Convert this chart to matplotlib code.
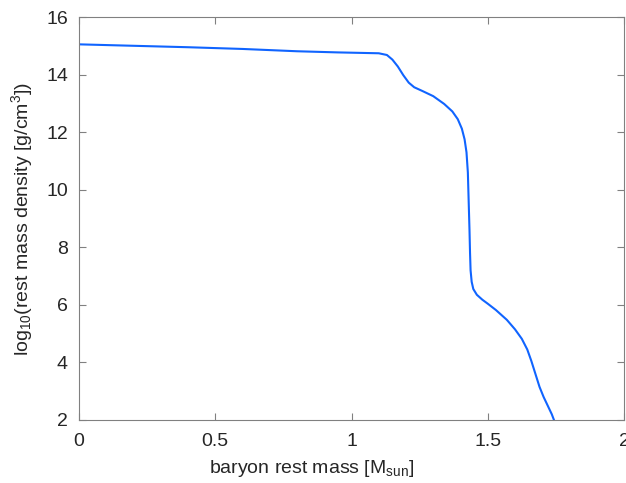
import matplotlib
matplotlib.use("Agg")
import matplotlib.pyplot as plt

plt.rcParams['font.family'] = ['Liberation Sans', 'DejaVu Sans']
plt.rcParams['mathtext.default'] = 'regular'

# curve
mass = [0.0, 0.2, 0.4, 0.6, 0.8, 0.95, 1.05, 1.10, 1.13, 1.15, 1.17, 1.19, 1.21, 1.23,
        1.26, 1.30, 1.34, 1.37, 1.39, 1.405, 1.415, 1.422, 1.427, 1.430, 1.433, 1.435,
        1.437, 1.441, 1.447, 1.46, 1.48, 1.50, 1.53, 1.57, 1.60, 1.625, 1.645, 1.66,
        1.675, 1.69, 1.705, 1.72, 1.735, 1.743]
logrho = [15.05, 15.0, 14.95, 14.89, 14.81, 14.77, 14.75, 14.74, 14.68, 14.52, 14.28, 13.98,
          13.72, 13.56, 13.43, 13.25, 12.98, 12.72, 12.45, 12.12, 11.75, 11.3, 10.6, 9.6,
          8.6, 7.8, 7.2, 6.8, 6.55, 6.35, 6.18, 6.04, 5.82, 5.48, 5.15, 4.82, 4.45, 4.05,
          3.6, 3.15, 2.8, 2.5, 2.2, 2.0]

xticks = [0, 0.5, 1, 1.5, 2]
xticklabels = ["0", "0.5", "1", "1.5", "2"]
yticks = [2, 4, 6, 8, 10, 12, 14, 16]

fig = plt.figure(figsize=(6.26, 4.83), dpi=100)
ax = fig.add_axes([79/626, 63/483, 545/626, 403/483])
ax.plot(mass, logrho, color='#1064ff', lw=1.5)
ax.set_xlim(0, 2)
ax.set_ylim(2, 16)
ax.set_xticks(xticks)
ax.set_xticklabels(xticklabels)
ax.set_yticks(yticks)
for s in ax.spines.values():
    s.set_color('#808080')
ax.tick_params(direction='in', top=True, right=True, length=5, color='#808080',
               labelsize=14, labelcolor='#262626')
ax.tick_params(axis='x', pad=9)
ax.tick_params(axis='y', pad=8)
ax.set_xlabel("baryon rest mass [M$_{sun}$]", fontsize=14, color='#262626')
ax.xaxis.set_label_coords(0.426, -0.095)
ax.set_ylabel("log$_{10}$(rest mass density [g/cm$^3$])", fontsize=14, color='#262626', labelpad=8)
fig.savefig("out.png", dpi=100)
